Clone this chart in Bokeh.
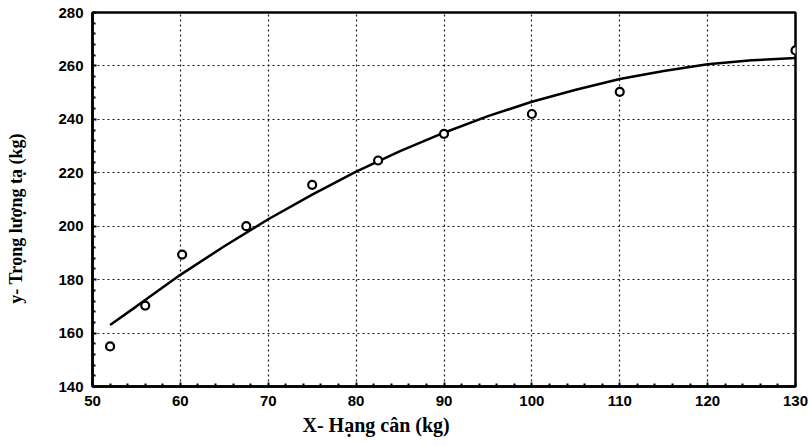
import math
from bokeh.plotting import figure
from bokeh.layouts import row
from bokeh.models import Range1d, FixedTicker, Title, Label
from bokeh.embed import file_html
from bokeh.resources import INLINE

# observed points
x_obs = [52, 56, 60.2, 67.5, 75, 82.5, 90, 100, 110, 130]
y_obs = [155, 170.3, 189.4, 200, 215.5, 224.6, 234.6, 242, 250.3, 265.8]

# fitted curve
x_fit = [52, 55, 60, 65, 70, 75, 80, 85, 90, 95, 100, 105, 110, 115, 120, 125, 130]
y_fit = [163, 170, 181.8, 192.5, 202.6, 211.8, 220.4, 228.1, 235, 241.2, 246.6, 251.1, 255.1, 258.1, 260.6, 262.1, 263]

x_ticks = [50, 60, 70, 80, 90, 100, 110, 120, 130]
y_ticks = [140, 160, 180, 200, 220, 240, 260, 280]

x_label = "X- Hạng cân (kg)"
y_label = "y- Trọng lượng tạ (kg)"

# narrow panel holding the vertical y-axis title
side = figure(width=40, height=445, output_backend="svg", toolbar_location=None,
              x_range=Range1d(0, 40), y_range=Range1d(0, 445),
              min_border=0, outline_line_color=None)
side.axis.visible = False
side.grid.visible = False
side.border_fill_color = "white"
side.add_layout(Label(x=15, y=200, text=y_label, text_align="center", text_baseline="middle",
                      angle=math.pi / 2, text_font="Liberation Serif", text_font_style="bold",
                      text_font_size="18px", text_color="black"))

p = figure(width=769, height=445, output_backend="svg", toolbar_location=None,
           x_range=Range1d(50, 130), y_range=Range1d(140, 280),
           min_border_left=52, min_border_right=14, min_border_top=12, min_border_bottom=59)

p.outline_line_color = "black"
p.outline_line_width = 2.5
p.background_fill_color = "white"
p.border_fill_color = "white"

for ax, ticks in ((p.xaxis[0], x_ticks), (p.yaxis[0], y_ticks)):
    step = ticks[1] - ticks[0]
    ax.ticker = FixedTicker(ticks=ticks, minor_ticks=[t + step * k / 5 for t in ticks[:-1] for k in range(1, 5)])
    ax.axis_line_width = 2.5
    ax.axis_line_color = "black"
    ax.major_tick_in = 4
    ax.major_tick_out = 0
    ax.minor_tick_in = 3
    ax.minor_tick_out = 0
    ax.major_tick_line_width = 2
    ax.minor_tick_line_width = 2
    ax.major_label_text_font = "Liberation Sans"
    ax.major_label_text_font_style = "bold"
    ax.major_label_text_font_size = "15px"
    ax.major_label_text_color = "black"

p.xaxis.major_label_standoff = 9
p.yaxis.major_label_standoff = 9

p.grid.grid_line_color = "black"
p.grid.grid_line_dash = "2 3"
p.grid.grid_line_width = 1.2
p.grid.grid_line_alpha = 0.9

p.add_layout(Title(text=x_label, align="left", offset=210, text_font="Liberation Serif",
                   text_font_style="bold", text_font_size="20px", standoff=6,
                   text_color="black"), "below")

p.line(x_fit, y_fit, line_color="black", line_width=2.5)
p.scatter(x_obs, y_obs, marker="circle", size=8, fill_color="white",
          line_color="black", line_width=2.2)

layout = row(side, p, spacing=0)
open("out.html", "w").write(file_html(layout, INLINE))
